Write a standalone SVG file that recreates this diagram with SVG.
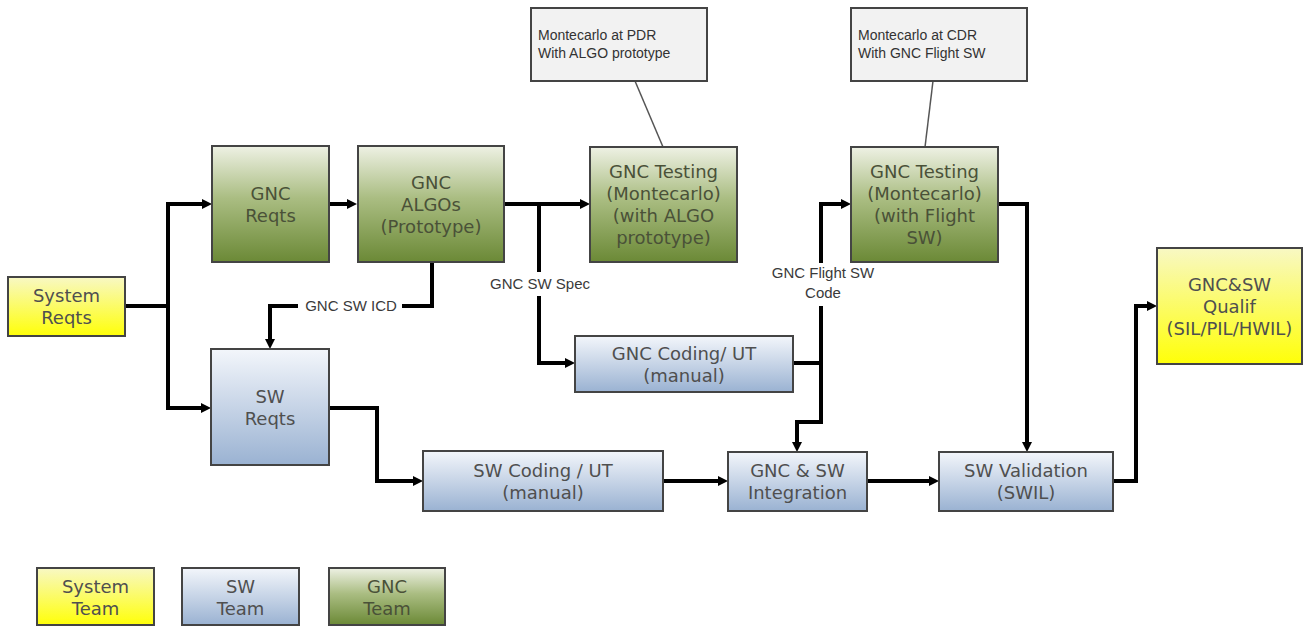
<svg xmlns="http://www.w3.org/2000/svg" width="1308" height="628" viewBox="0 0 1308 628">
<style>
.box{stroke:#444;stroke-width:2}
.green{fill:url(#gGreen)}
.blue{fill:url(#gBlue)}
.yellow{fill:url(#gYellow)}
.note{fill:#f2f2f2;stroke:#444;stroke-width:2}
.t{font-family:"DejaVu Sans",Verdana,sans-serif;font-size:18px;fill:#4f4f4f;text-anchor:middle}
.tg{fill:#4a5138}
.lbl{font-family:"Liberation Sans",Arial,sans-serif;font-size:15px;fill:#3a3a3a;text-anchor:middle}
.nt{font-family:"Liberation Sans",Arial,sans-serif;font-size:14px;fill:#333}
.c{fill:none;stroke:#000;stroke-width:4;stroke-linejoin:miter}
.a{marker-end:url(#ah)}
.nl{fill:none;stroke:#555;stroke-width:1.5}
</style>
<defs>
<linearGradient id="gGreen" x1="0" y1="0" x2="0" y2="1">
<stop offset="0" stop-color="#eef1e4"/>
<stop offset="0.45" stop-color="#aabd82"/>
<stop offset="1" stop-color="#6b8936"/>
</linearGradient>
<linearGradient id="gBlue" x1="0" y1="0" x2="0" y2="1">
<stop offset="0" stop-color="#f3f6fb"/>
<stop offset="1" stop-color="#9ab2d2"/>
</linearGradient>
<linearGradient id="gYellow" x1="0" y1="0" x2="0" y2="1">
<stop offset="0" stop-color="#f8f8c4"/>
<stop offset="1" stop-color="#ffff08"/>
</linearGradient>
<marker id="ah" viewBox="0 0 10 10" refX="0" refY="5" markerWidth="10" markerHeight="10" markerUnits="userSpaceOnUse" orient="auto">
<path d="M0,0 L10,5 L0,10 z" fill="#000"/>
</marker>
</defs>

<g id="connectors">
<path class="c a" d="M125,306 H168 V204 H202"/>
<path class="c a" d="M168,306 V408 H201"/>
<path class="c a" d="M329,204 H347"/>
<path class="c a" d="M504,204 H580"/>
<path class="c" d="M539,204 V272"/>
<path class="c a" d="M539,296 V363 H565"/>
<path class="c" d="M432,262 V306 H402"/>
<path class="c a" d="M298,306 H270 V339"/>
<path class="c" d="M793,363 H821 V306"/>
<path class="c a" d="M821,263 V204 H841"/>
<path class="c a" d="M821,363 V422 H797 V442"/>
<path class="c a" d="M329,408 H377 V481 H413"/>
<path class="c a" d="M663,481 H718"/>
<path class="c a" d="M867,481 H929"/>
<path class="c a" d="M998,204 H1027 V442"/>
<path class="c a" d="M1113,481 H1136 V306 H1147"/>
<path class="nl" d="M635,81 L663,147"/>
<path class="nl" d="M933,81 L925,147"/>
<text class="lbl" x="540" y="289">GNC SW Spec</text>
<text class="lbl" x="351" y="311">GNC SW ICD</text>
<text class="lbl" x="823" y="278">GNC Flight SW</text>
<text class="lbl" x="823" y="298">Code</text>
</g>

<g id="note-pdr">
<rect class="note" x="531" y="8" width="176" height="73"/>
<text class="nt" x="538" y="40">Montecarlo at PDR</text>
<text class="nt" x="538" y="58">With ALGO prototype</text>
</g>
<g id="note-cdr">
<rect class="note" x="851" y="8" width="176" height="73"/>
<text class="nt" x="858" y="40">Montecarlo at CDR</text>
<text class="nt" x="858" y="58">With GNC Flight SW</text>
</g>

<g id="system-reqts">
<rect class="box yellow" x="8" y="277" width="117" height="59"/>
<text class="t" x="66.5" y="302">System</text>
<text class="t" x="66.5" y="324">Reqts</text>
</g>
<g id="gnc-reqts">
<rect class="box green" x="212" y="146" width="117" height="116"/>
<text class="t tg" x="270.5" y="199.5">GNC</text>
<text class="t tg" x="270.5" y="221.5">Reqts</text>
</g>
<g id="gnc-algos">
<rect class="box green" x="358" y="146" width="146" height="116"/>
<text class="t tg" x="431" y="188.5">GNC</text>
<text class="t tg" x="431" y="210.5">ALGOs</text>
<text class="t tg" x="431" y="232.5">(Prototype)</text>
</g>
<g id="gnc-testing-1">
<rect class="box green" x="590" y="147" width="147" height="115"/>
<text class="t tg" x="663.5" y="177.5">GNC Testing</text>
<text class="t tg" x="663.5" y="199.5">(Montecarlo)</text>
<text class="t tg" x="663.5" y="221.5">(with ALGO</text>
<text class="t tg" x="663.5" y="243.5">prototype)</text>
</g>
<g id="gnc-testing-2">
<rect class="box green" x="851" y="147" width="147" height="115"/>
<text class="t tg" x="924.5" y="177.5">GNC Testing</text>
<text class="t tg" x="924.5" y="199.5">(Montecarlo)</text>
<text class="t tg" x="924.5" y="221.5">(with Flight</text>
<text class="t tg" x="924.5" y="243.5">SW)</text>
</g>
<g id="sw-reqts">
<rect class="box blue" x="211" y="349" width="118" height="116"/>
<text class="t" x="270" y="402.5">SW</text>
<text class="t" x="270" y="424.5">Reqts</text>
</g>
<g id="gnc-coding">
<rect class="box blue" x="575" y="336" width="218" height="56"/>
<text class="t" x="684" y="359.5">GNC Coding/ UT</text>
<text class="t" x="684" y="381.5">(manual)</text>
</g>
<g id="sw-coding">
<rect class="box blue" x="423" y="451" width="240" height="60"/>
<text class="t" x="543" y="476.5">SW Coding / UT</text>
<text class="t" x="543" y="498.5">(manual)</text>
</g>
<g id="integration">
<rect class="box blue" x="728" y="452" width="139" height="59"/>
<text class="t" x="797.5" y="477">GNC &amp; SW</text>
<text class="t" x="797.5" y="499">Integration</text>
</g>
<g id="sw-validation">
<rect class="box blue" x="939" y="452" width="174" height="59"/>
<text class="t" x="1026" y="477">SW Validation</text>
<text class="t" x="1026" y="499">(SWIL)</text>
</g>
<g id="qualif">
<rect class="box yellow" x="1157" y="248" width="145" height="116"/>
<text class="t" x="1229.5" y="290.5">GNC&amp;SW</text>
<text class="t" x="1229.5" y="312.5">Qualif</text>
<text class="t" x="1229.5" y="334.5">(SIL/PIL/HWIL)</text>
</g>

<g id="legend-system">
<rect class="box yellow" x="37" y="568" width="117" height="57"/>
<text class="t" x="95.5" y="592.5">System</text>
<text class="t" x="95.5" y="614.5">Team</text>
</g>
<g id="legend-sw">
<rect class="box blue" x="182" y="568" width="117" height="57"/>
<text class="t" x="240.5" y="592.5">SW</text>
<text class="t" x="240.5" y="614.5">Team</text>
</g>
<g id="legend-gnc">
<rect class="box green" x="329" y="568" width="116" height="57"/>
<text class="t tg" x="387" y="592.5">GNC</text>
<text class="t tg" x="387" y="614.5">Team</text>
</g>
</svg>
